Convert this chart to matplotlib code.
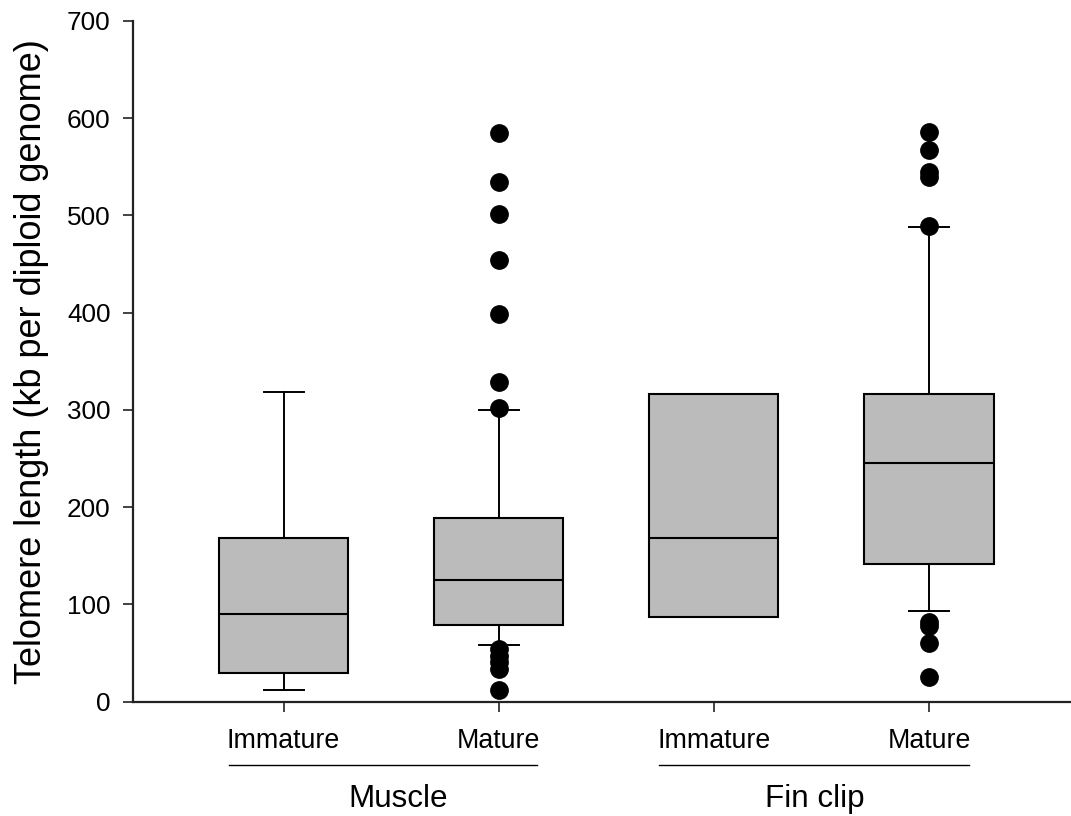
import numpy as np
import matplotlib
matplotlib.use('Agg')
from matplotlib import pyplot as plt
from matplotlib import transforms

plt.rcParams['font.family'] = ['Liberation Sans', 'DejaVu Sans']

# box plot summaries (kb per diploid genome)
tissues = ['Muscle', 'Fin clip']
stages = ['Immature', 'Mature', 'Immature', 'Mature']
q1 = [29.8, 78.7, 87.4, 141.2]
medians = [89.8, 125.0, 168.0, 245.0]
q3 = [168.0, 189.0, 316.0, 316.0]
whisk_lo = [12.0, 58.3, 87.4, 93.4]
whisk_hi = [318.6, 299.8, 316.0, 487.6]
outliers = [
    [],
    [12.0, 34.0, 40.5, 47.5, 54.5, 301.6, 328.3, 398.5, 454.0, 501.3, 534.5, 584.2],
    [],
    [25.0, 60.6, 77.5, 82.0, 489.0, 539.0, 544.5, 567.0, 585.2],
]

positions = np.arange(1, len(stages) + 1)
stats = [dict(med=m, q1=a, q3=b, whislo=lo, whishi=hi, fliers=f, label=s)
         for m, a, b, lo, hi, f, s in zip(medians, q1, q3, whisk_lo, whisk_hi,
                                          outliers, stages)]

fig = plt.figure(figsize=(10.71, 8.16), dpi=100)
ax = fig.add_axes([0.1242, 0.14, 0.8758, 0.8346])

res = ax.bxp(stats, positions=positions, widths=0.6, capwidths=0.186,
             patch_artist=True,
             boxprops=dict(facecolor='#bbbbbb', edgecolor='black', linewidth=1.5),
             medianprops=dict(color='black', linewidth=1.5),
             whiskerprops=dict(color='black', linewidth=1.4),
             capprops=dict(color='black', linewidth=1.4),
             flierprops=dict(marker='o', markerfacecolor='black',
                             markeredgecolor='black', markersize=12.5,
                             linestyle='none'))
# the immature fin clip group has no whiskers
for art in res['caps'][4:6] + res['whiskers'][4:6]:
    art.set_visible(False)

ax.set_xlim(0.30, 4.66)
ax.set_ylim(0, 700)
ax.set_yticks(np.arange(0, 701, 100))
ax.set_xticks(positions)
ax.set_xticklabels(stages)

for side in ['top', 'right']:
    ax.spines[side].set_visible(False)
for side in ['left', 'bottom']:
    ax.spines[side].set_color('#222222')
    ax.spines[side].set_linewidth(1.6)

ax.tick_params(axis='y', direction='out', length=7.2, width=1.2,
               color='#222222', labelsize=18.8, pad=9)
ax.tick_params(axis='x', direction='out', length=7.2, width=1.2,
               color='#222222', labelsize=19.3, pad=12)

ax.set_ylabel('Telomere length (kb per diploid genome)', fontsize=26)
ax.yaxis.set_label_coords(-0.0896, 0.5)

# tissue labels with a rule under each pair of stages
trans = transforms.blended_transform_factory(ax.transData, ax.transAxes)
spans = [(0.747, 2.18), (2.746, 4.186)]
label_x = [1.53, 3.47]
for name, (x0, x1), xt in zip(tissues, spans, label_x):
    ax.plot([x0, x1], [-0.093, -0.093], color='black', linewidth=1.0,
            transform=trans, clip_on=False)
    ax.text(xt, -0.154, name, transform=trans, ha='center',
            va='baseline', fontsize=22.6)

fig.savefig('out.png', dpi=100)
